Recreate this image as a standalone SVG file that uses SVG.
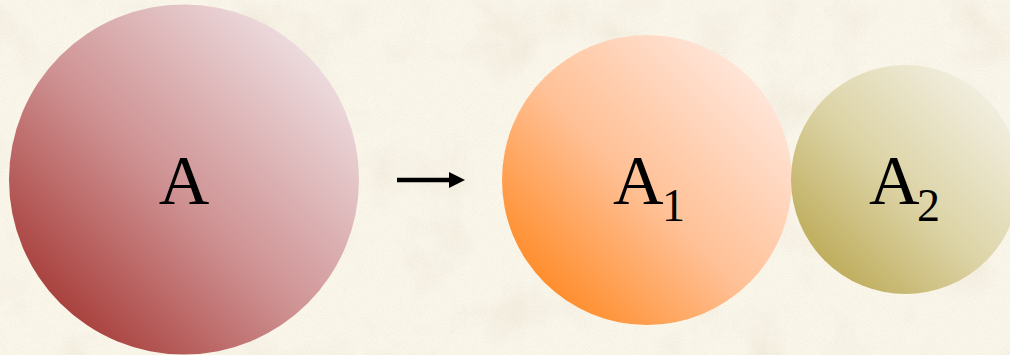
<svg xmlns="http://www.w3.org/2000/svg" width="1010" height="355" viewBox="0 0 1010 355">
  <style>
    .lbl { font-family: "Liberation Serif", "DejaVu Serif", serif; fill: #000; }
    .big { font-size: 70px; }
    .sub { font-size: 46px; }
    .edge { stroke: #000; stroke-width: 4.5; fill: none; }
  </style>
  <defs>
    <linearGradient id="gA" x1="0.12" y1="0.88" x2="0.9" y2="0.1">
      <stop offset="0" stop-color="#a63c38"/>
      <stop offset="0.45" stop-color="#cf9293"/>
      <stop offset="1" stop-color="#f0e3e6"/>
    </linearGradient>
    <linearGradient id="gA1" x1="0.12" y1="0.88" x2="0.9" y2="0.1">
      <stop offset="0" stop-color="#ff8a26"/>
      <stop offset="0.45" stop-color="#ffc095"/>
      <stop offset="1" stop-color="#ffe9e0"/>
    </linearGradient>
    <linearGradient id="gA2" x1="0.12" y1="0.88" x2="0.9" y2="0.1">
      <stop offset="0" stop-color="#bdab58"/>
      <stop offset="0.45" stop-color="#dcd3a5"/>
      <stop offset="1" stop-color="#f4f1e5"/>
    </linearGradient>
    <filter id="paper" x="0" y="0" width="100%" height="100%">
      <feTurbulence type="fractalNoise" baseFrequency="0.015" numOctaves="4" seed="7" result="n"/>
      <feColorMatrix in="n" type="matrix" values="0 0 0 0 0.75  0 0 0 0 0.68  0 0 0 0 0.55  0 0 0 -2.2 1.1"/>
    </filter>
    <filter id="grain" x="0" y="0" width="100%" height="100%">
      <feTurbulence type="fractalNoise" baseFrequency="0.9" numOctaves="2" seed="3" result="g"/>
      <feColorMatrix in="g" type="matrix" values="0 0 0 0 0.6  0 0 0 0 0.55  0 0 0 0 0.45  0 0 0 -2 1.1"/>
    </filter>
    <marker id="arrow" viewBox="0 0 10 10" refX="0" refY="5" markerUnits="userSpaceOnUse" markerWidth="16" markerHeight="16" orient="auto">
      <path d="M0,0 L10,5 L0,10 z" fill="#000"/>
    </marker>
  </defs>
  <rect width="1010" height="355" fill="#faf6ea"/>
  <rect width="1010" height="355" filter="url(#paper)" opacity="0.35"/>
  <rect width="1010" height="355" filter="url(#grain)" opacity="0.2"/>

  <g id="connectors">
    <line class="edge" x1="397" y1="180" x2="449" y2="180" marker-end="url(#arrow)"/>
  </g>

  <g id="node-A">
    <circle cx="184" cy="179.5" r="175" fill="url(#gA)"/>
    <text class="lbl big" x="184" y="204" text-anchor="middle">A</text>
  </g>
  <g id="node-A1">
    <circle cx="647" cy="180" r="145" fill="url(#gA1)"/>
    <text class="lbl"><tspan class="big" x="613" y="204">A</tspan><tspan class="sub" x="662" y="221">1</tspan></text>
  </g>
  <g id="node-A2">
    <circle cx="905.5" cy="179.5" r="114.5" fill="url(#gA2)"/>
    <text class="lbl"><tspan class="big" x="869" y="204">A</tspan><tspan class="sub" x="917" y="221">2</tspan></text>
  </g>
</svg>
